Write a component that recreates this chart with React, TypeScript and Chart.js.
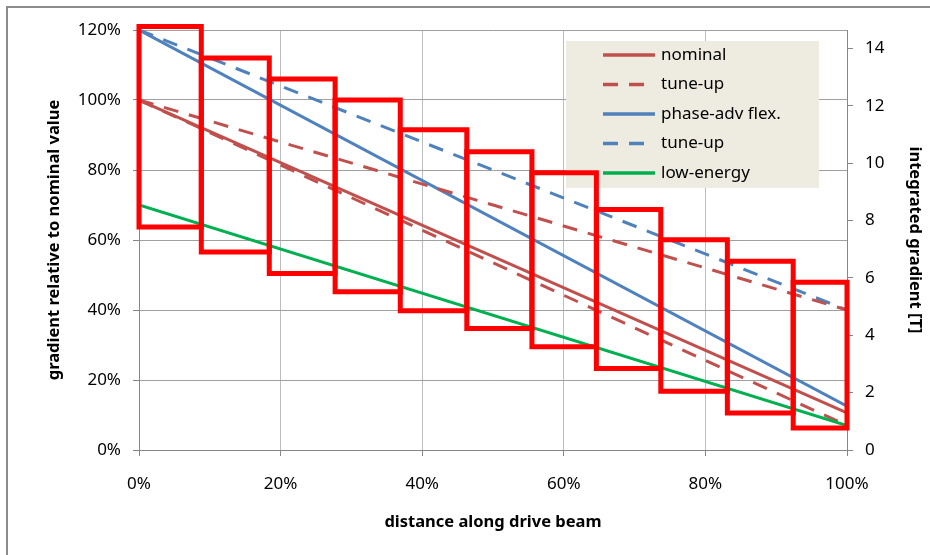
import React, { useEffect, useRef } from 'react';
import { Chart, registerables } from 'chart.js';

Chart.register(...registerables);

// ---- data ----
const xPoints = [0, 100]; // distance along drive beam [%]
const nominalValues = [100, 10.6];
const nominalTuneUpValues = [100, 40];
const phaseAdvValues = [120, 12.5];
const phaseAdvTuneUpValues = [120, 40];
const lowEnergyValues = [70, 7];
const nominalLowTrackValues = [100, 7]; // unlabelled dashed line under "nominal"

const seriesLabels = ['nominal', 'tune-up', 'phase-adv flex.', 'tune-up', 'low-energy'];

// red quadrupole blocks (x edges in %, top/bottom in % of nominal gradient)
const boxEdges = [0, 8.8, 18.4, 27.7, 36.9, 46.3, 55.5, 64.6, 73.7, 83.1, 92.4, 100];
const boxTops = [121, 112, 106, 100, 91.5, 85.2, 79.2, 68.7, 60.1, 53.9, 47.9];
const boxBottoms = [63.7, 56.6, 50.4, 45.2, 39.8, 34.7, 29.5, 23.3, 16.8, 10.6, 6.3];

const leftMax = 120;
const leftStep = 20;
const rightMax = 14.64;
const rightStep = 2;
const xStep = 20;

const RED = '#C0504D';
const BLUE = '#4F81BD';
const GREEN = '#00B050';
const DASH = [15, 11];

const FONT = "'Noto Sans', 'Open Sans', sans-serif";

const legendPlugin = {
  id: 'insetLegend',
  beforeDatasetsDraw(chart: any) {
    const ctx = chart.ctx;
    const boxX = 566, boxY = 41, boxW = 253, boxH = 147;
    ctx.save();
    ctx.fillStyle = '#EEECE1';
    ctx.fillRect(boxX, boxY, boxW, boxH);
    const items = chart.data.datasets.filter((d: any) => d.inLegend);
    items.forEach((d: any, i: number) => {
      const y = 55 + i * 29.5;
      ctx.beginPath();
      ctx.strokeStyle = d.borderColor;
      ctx.lineWidth = 3.5;
      ctx.setLineDash(d.borderDash || []);
      ctx.moveTo(603, y);
      ctx.lineTo(655, y);
      ctx.stroke();
      ctx.setLineDash([]);
      ctx.fillStyle = '#000';
      ctx.font = `17px ${FONT}`;
      ctx.textBaseline = 'middle';
      ctx.textAlign = 'left';
      ctx.fillText(d.label, 661, y);
    });
    ctx.restore();
  },
};

export default function App() {
  const ref = useRef<HTMLCanvasElement>(null);

  useEffect(() => {
    document.body.style.margin = '0';
    const canvas = ref.current!;

    const lineDs = (label: string, values: number[], color: string, dash: number[], inLegend: boolean) => ({
      label,
      inLegend,
      data: xPoints.map((x, i) => ({ x, y: values[i] })),
      borderColor: color,
      backgroundColor: color,
      borderWidth: 3,
      borderDash: dash,
      showLine: true,
      pointRadius: 0,
      fill: false,
      order: 1,
      yAxisID: 'y',
    });

    const boxes = boxTops.map((t, i) => {
      const l = boxEdges[i];
      const r = boxEdges[i + 1];
      const b = boxBottoms[i];
      return {
        label: 'block ' + (i + 1),
        inLegend: false,
        data: [
          { x: l, y: b },
          { x: l, y: t },
          { x: r, y: t },
          { x: r, y: b },
          { x: l, y: b },
        ],
        borderColor: '#FF0000',
        backgroundColor: '#FF0000',
        borderWidth: 5,
        borderCapStyle: 'square',
        borderJoinStyle: 'miter',
        showLine: true,
        pointRadius: 0,
        fill: false,
        clip: false,
        order: 0,
        yAxisID: 'y',
      };
    });

    const datasets: any[] = [
      lineDs(seriesLabels[0], nominalValues, RED, [], true),
      lineDs(seriesLabels[1], nominalTuneUpValues, RED, DASH, true),
      lineDs(seriesLabels[2], phaseAdvValues, BLUE, [], true),
      lineDs(seriesLabels[3], phaseAdvTuneUpValues, BLUE, DASH, true),
      lineDs(seriesLabels[4], lowEnergyValues, GREEN, [], true),
      lineDs('nominal (lower)', nominalLowTrackValues, RED, DASH, false),
      ...boxes,
    ];

    const tickFont = { family: FONT, size: 17 };
    const titleFont = { family: FONT, size: 16.5, weight: 'bold' as const };

    const chart = new Chart(canvas, {
      type: 'scatter',
      data: { datasets },
      plugins: [legendPlugin],
      options: {
        animation: false,
        responsive: false,
        events: [],
        layout: { padding: { top: 30, left: 0, right: 0, bottom: 0 } },
        plugins: { legend: { display: false }, tooltip: { enabled: false } },
        scales: {
          x: {
            type: 'linear',
            min: 0,
            max: 100,
            ticks: {
              stepSize: xStep,
              callback: (v: any) => v + '%',
              color: '#000',
              font: tickFont,
              padding: 18,
              maxRotation: 0,
            },
            grid: { color: '#BDBDBD', tickColor: '#868686', tickLength: 6, lineWidth: 1 },
            border: { color: '#868686', width: 1 },
            title: {
              display: true,
              text: 'distance along drive beam',
              color: '#000',
              font: titleFont,
              padding: { top: 0, bottom: 23 },
            },
            afterFit: (s: any) => { s.height = 105; },
          },
          y: {
            type: 'linear',
            position: 'left',
            min: 0,
            max: leftMax,
            ticks: {
              stepSize: leftStep,
              callback: (v: any) => v + '%',
              color: '#000',
              font: tickFont,
              padding: 12,
            },
            grid: { color: '#A0A0A0', tickColor: '#868686', tickLength: 6 },
            border: { color: '#868686', width: 1 },
            title: {
              display: true,
              text: 'gradient relative to nominal value',
              color: '#000',
              font: titleFont,
              padding: { top: 44, bottom: 0 },
            },
            afterFit: (s: any) => { s.width = 139; },
          },
          y2: {
            type: 'linear',
            position: 'right',
            min: 0,
            max: rightMax,
            ticks: {
              stepSize: rightStep,
              includeBounds: false,
              color: '#000',
              font: tickFont,
              padding: 12,
            },
            grid: { drawOnChartArea: false, tickColor: '#868686', tickLength: 6 },
            border: { color: '#868686', width: 1 },
            title: {
              display: true,
              text: 'integrated gradient [T]',
              color: '#000',
              font: titleFont,
              padding: { top: 5, bottom: 0 },
            },
            afterFit: (s: any) => { s.width = 83; },
          },
        },
      } as any,
    });

    return () => chart.destroy();
  }, []);

  return (
    <div style={{ position: 'relative', width: 930, height: 555, overflow: 'hidden', background: '#fff' }}>
      <canvas ref={ref} width={930} height={555} style={{ position: 'absolute', left: 0, top: 0, width: 930, height: 555 }} />
      <div
        style={{
          position: 'absolute',
          left: 6,
          top: 6,
          width: 1000,
          height: 1000,
          border: '2px solid #8C8C8C',
          pointerEvents: 'none',
        }}
      />
    </div>
  );
}
